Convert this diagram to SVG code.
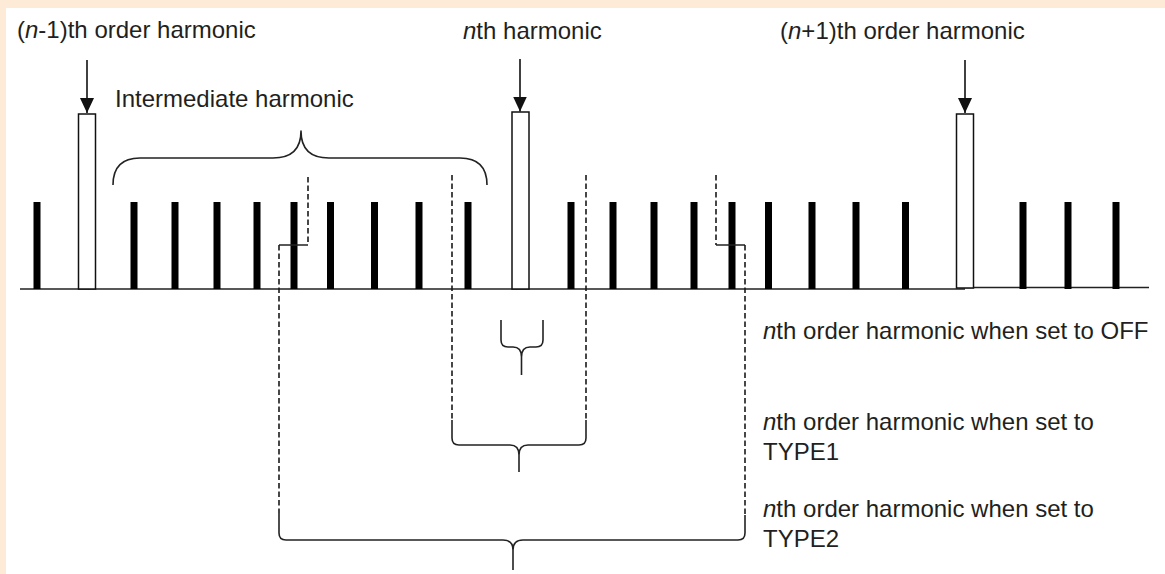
<svg xmlns="http://www.w3.org/2000/svg" width="1165" height="574" viewBox="0 0 1165 574">
<defs>
<marker id="ah" viewBox="0 0 15 14" refX="15" refY="7" markerWidth="15" markerHeight="14" markerUnits="userSpaceOnUse" orient="auto">
<path d="M0,0 L15,7 L0,14 Z" fill="#111"/>
</marker>
</defs>
<style>
text{font-family:"Liberation Sans",Arial,sans-serif;font-size:24px;fill:#231f20}
.it{font-style:italic}
.bar{fill:#000}
.box{fill:#fff;stroke:#111;stroke-width:1.5}
.base{stroke:#222;stroke-width:1.6;fill:none}
.dash{stroke:#1a1a1a;stroke-width:1.6;stroke-dasharray:5.5 3;fill:none}
.solid{stroke:#222;stroke-width:1.5;fill:none}
.brace{stroke:#222;stroke-width:1.6;fill:none;stroke-linejoin:round}
.arrow{stroke:#111;stroke-width:1.6;fill:none}
</style>
<rect x="0" y="0" width="1165" height="574" fill="#fdebd7"/>
<rect x="6" y="8" width="1159" height="566" fill="#fff"/>

<g id="baseline">
<path class="base" d="M20,289 H965 M965,287.5 H1149"/>
</g>

<g id="bars">
<rect class="bar" x="33.5" y="202" width="7" height="87"/>
<rect class="bar" x="130.5" y="202" width="7" height="87"/>
<rect class="bar" x="171.5" y="202" width="7" height="87"/>
<rect class="bar" x="213.5" y="202" width="7" height="87"/>
<rect class="bar" x="253.5" y="202" width="7" height="87"/>
<rect class="bar" x="290.5" y="202" width="7" height="87"/>
<rect class="bar" x="327" y="202" width="7" height="87"/>
<rect class="bar" x="371" y="202" width="7" height="87"/>
<rect class="bar" x="415.5" y="202" width="7" height="87"/>
<rect class="bar" x="464.5" y="202" width="7" height="87"/>
<rect class="bar" x="567.5" y="202" width="7" height="87"/>
<rect class="bar" x="609.5" y="202" width="7" height="87"/>
<rect class="bar" x="650.5" y="202" width="7" height="87"/>
<rect class="bar" x="690.5" y="202" width="7" height="87"/>
<rect class="bar" x="728.5" y="202" width="7" height="87"/>
<rect class="bar" x="765" y="202" width="7" height="87"/>
<rect class="bar" x="808.5" y="202" width="7" height="87"/>
<rect class="bar" x="852.5" y="202" width="7" height="87"/>
<rect class="bar" x="902" y="202" width="7" height="87"/>
<rect class="bar" x="1019.5" y="202" width="7" height="87"/>
<rect class="bar" x="1064.5" y="202" width="7" height="87"/>
<rect class="bar" x="1112.5" y="202" width="7" height="87"/>
</g>

<g id="harmonic-n-minus-1">
<rect class="box" x="78.5" y="114" width="17" height="175"/>
<text x="17" y="38">(<tspan class="it">n</tspan>-1)th order harmonic</text>
</g>
<g id="harmonic-n">
<rect class="box" x="512" y="112" width="17" height="177"/>
<text x="463" y="38.5"><tspan class="it">n</tspan>th harmonic</text>
</g>
<g id="harmonic-n-plus-1">
<rect class="box" x="956.5" y="114" width="17" height="174"/>
<text x="780" y="38.5">(<tspan class="it">n</tspan>+1)th order harmonic</text>
</g>

<g id="intermediate">
<path class="brace" d="M113,185 Q113,158 140,158 H273 Q301,158 301,131 Q301,158 329,158 H460 Q487,158 487,185"/>
<text x="115" y="107">Intermediate harmonic</text>
</g>

<g id="off-label">
<path class="brace" d="M501,320 V340 Q501,347 508,347 H513 Q521.5,347 521.5,357 V375 M521.5,357 Q521.5,347 530,347 H536 Q543,347 543,340 V320"/>
<text x="763" y="339"><tspan class="it">n</tspan>th order harmonic when set to OFF</text>
</g>

<g id="type1-label">
<path class="brace" d="M452,420 V438 Q452,445 459,445 H510 Q519,445 519,455 V472 M519,455 Q519,445 528,445 H579 Q586,445 586,438 V420"/>
<text x="763" y="430"><tspan class="it">n</tspan>th order harmonic when set to</text>
<text x="763" y="460">TYPE1</text>
</g>

<g id="type2-label">
<path class="brace" d="M279,513 V533 Q279,540 286,540 H503 Q513,540 513,550 V570 M513,550 Q513,540 523,540 H738 Q745,540 745,533 V515"/>
<text x="763" y="517"><tspan class="it">n</tspan>th order harmonic when set to</text>
<text x="763" y="547">TYPE2</text>
</g>

<g id="connectors">
<line class="arrow" x1="87" y1="60" x2="87" y2="113" marker-end="url(#ah)"/>
<line class="arrow" x1="520" y1="59" x2="520" y2="111.5" marker-end="url(#ah)"/>
<line class="arrow" x1="965" y1="60" x2="965" y2="113" marker-end="url(#ah)"/>
<path class="dash" d="M308,177 V245"/>
<path class="solid" d="M279,245 H308"/>
<path class="dash" d="M279,245 V513"/>
<path class="dash" d="M452,175 V420"/>
<path class="dash" d="M586,175 V420"/>
<path class="dash" d="M716,175 V245"/>
<path class="solid" d="M716,245 H745"/>
<path class="dash" d="M745,245 V515"/>
</g>
</svg>
